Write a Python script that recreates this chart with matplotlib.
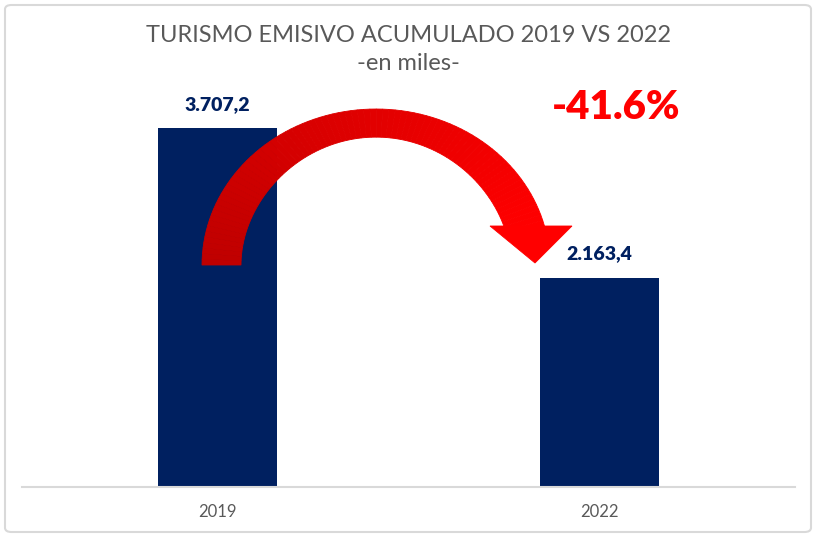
import matplotlib.pyplot as plt
import numpy as np
from matplotlib.patches import Polygon, FancyBboxPatch

years = ["2019", "2022"]
values = [3707.2, 2163.4]
value_labels = ["3.707,2", "2.163,4"]
change_label = "-41.6%"

plt.rcParams['font.family'] = ['Lato', 'DejaVu Sans']

fig = plt.figure(figsize=(8.16, 5.37), dpi=100)
ax = fig.add_axes([22 / 816, 50 / 537, 773 / 816, 387 / 537])

x = np.arange(len(years))
ax.bar(x, values, width=0.312, color="#002060", zorder=2)
ax.set_xlim(-0.512, 1.512)
ax.set_ylim(0, 4000)
ax.set_xticks(x)
ax.set_xticklabels(years, color="#595959", fontsize=12)
ax.set_yticks([])
for s in ["top", "right", "left"]:
    ax.spines[s].set_visible(False)
ax.spines["bottom"].set_color("#D9D9D9")
ax.spines["bottom"].set_linewidth(1.5)
ax.tick_params(axis="x", length=0, pad=12)

for xi, v, lab in zip(x, values, value_labels):
    ax.annotate(lab, (xi, v), xytext=(0, 11), textcoords="offset points",
                ha="center", va="bottom", fontsize=14, fontweight="heavy",
                color="#002060")

fig.text(0.5, 1 - 35 / 537, "TURISMO EMISIVO ACUMULADO 2019 VS 2022",
         ha="center", va="center", fontsize=17, color="#595959")
fig.text(0.5, 1 - 64 / 537, "-en miles-", ha="center", va="center",
         fontsize=17, color="#595959")
fig.text(616 / 816, 1 - 107 / 537, change_label, ha="center", va="center",
         fontsize=29, fontweight="heavy", color="#FF0000")

# curved arrow (pixel coords, y up)
H = 537
cx, cy = 376, H - 265
ao, bo = 174, 156
th_end = np.deg2rad(14.5)
ts = np.linspace(np.pi, th_end, 80)
c0 = np.array([0.75, 0.0, 0.0])
c1 = np.array([1.0, 0.0, 0.0])


def pt(t, outer):
    if outer:
        return (cx + ao * np.cos(t), cy + bo * np.sin(t))
    return (cx + (ao - 39) * np.cos(t),
            cy + (bo - 38 * (1 - 0.26 * np.sin(t))) * np.sin(t))


for k in range(len(ts) - 1):
    t0, t1 = ts[k], ts[k + 1]
    quad = [pt(t0, True), pt(t1, True), pt(t1, False), pt(t0, False)]
    frac = k / (len(ts) - 2)
    col = c0 + (c1 - c0) * frac
    fig.patches.append(Polygon(quad, closed=True, transform=None,
                               facecolor=col, edgecolor=col, lw=0.6,
                               zorder=5))
head = [(490, H - 226), (572, H - 226), (535, H - 263)]
fig.patches.append(Polygon(head, closed=True, transform=None,
                           facecolor="#FF0000", edgecolor="#FF0000", lw=0.6,
                           zorder=5))

border = FancyBboxPatch((5 / 816, 5 / 537), 806 / 816, 527 / 537,
                        boxstyle="round,pad=0,rounding_size=0.008",
                        transform=fig.transFigure, facecolor="none",
                        edgecolor="#D9D9D9", lw=1.5)
fig.patches.append(border)

fig.savefig("out.png", dpi=100)
